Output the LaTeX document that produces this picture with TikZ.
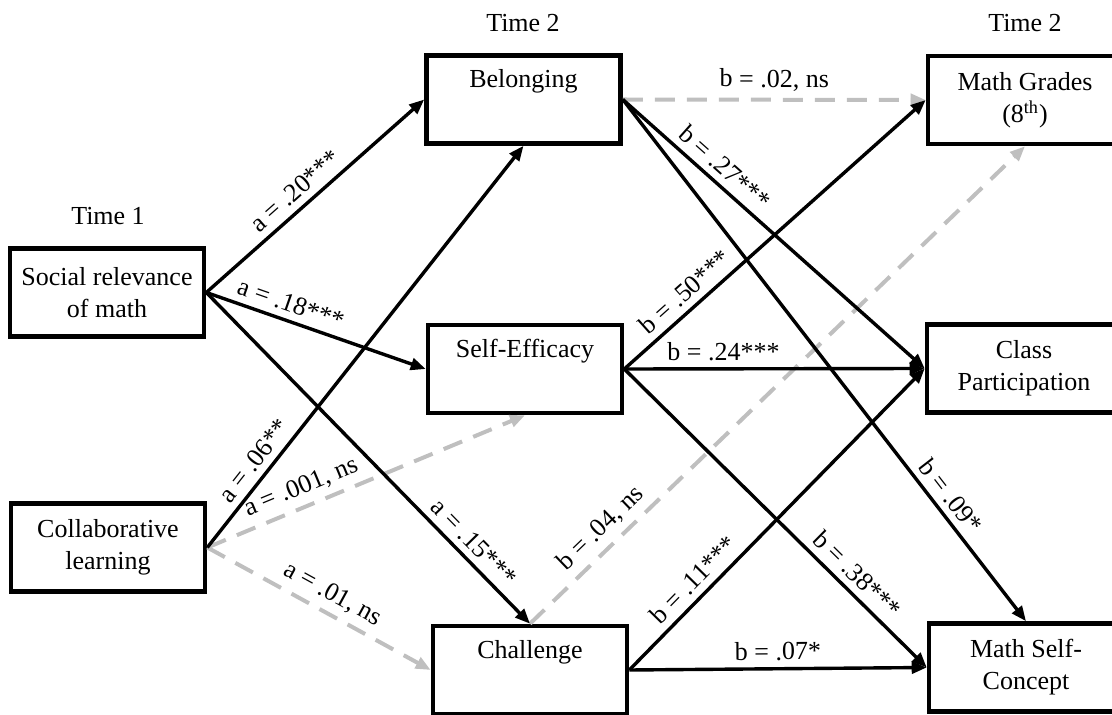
\documentclass[tikz,border=0pt]{standalone}
\usepackage{fontspec}
\setmainfont{Liberation Serif}
\usetikzlibrary{arrows.meta}

\begin{document}
\begin{tikzpicture}[x=0.5pt,y=-0.5pt,
  font=\fontsize{13}{16}\selectfont,
  box/.style={draw,line width=2.3pt,minimum width=97pt,minimum height=44pt,align=center,inner sep=2pt},
  arr/.style={line width=1.7pt,-{Triangle[length=7.5pt,width=6pt]}},
  nsarr/.style={line width=2pt,gray!50,dash pattern=on 10pt off 6pt,-{Triangle[length=7.5pt,width=6pt]}},
  lab/.style={sloped,above,text=black}]
\useasboundingbox (0,0) rectangle (1112,715);

% headings
\node (t1) at (108,216) {Time 1};
\node (t2a) at (523,23) {Time 2};
\node (t2b) at (1025,23) {Time 2};

% predictors
\node[box] (soc) at (107,292.5) {Social relevance\\of math};
\node[box] (col) at (108,547.5) {Collaborative\\learning};

% mediators
\node[box] (bel) at (523.5,99.5) {Belonging\\\strut};
\node[box] (eff) at (525,369) {Self-Efficacy\\\strut};
\node[box] (cha) at (530,670) {Challenge\\\strut};

% outcomes
\node[box] (mg) at (1025,100) {Math Grades\\(8\textsuperscript{th})};
\node[box] (cp) at (1024,368.5) {Class\\Participation};
\node[box] (msc) at (1026,667.5) {Math Self-\\Concept};

% ns paths
\draw[nsarr] (col.east) -- node[lab,pos=0.32] {a = .001, ns} (eff.south);
\draw[nsarr] (col.east) -- node[lab,pos=0.52] {a = .01, ns} (cha.west);
\draw[nsarr] (bel.east) -- node[lab] {b = .02, ns} (mg.west);
\draw[nsarr] (cha.north) -- node[lab,pos=0.17] {b = .04, ns} (mg.south);

% a paths
\draw[arr] (soc.east) -- node[lab,pos=0.46] {a = .20***} (bel.west);
\draw[arr] (soc.east) -- node[lab,pos=0.36] {a = .18***} (eff.west);
\draw[arr] (soc.east) -- node[lab,pos=0.79] {a = .15***} (cha.north);
\draw[arr] (col.east) -- node[lab,pos=0.19] {a = .06**} (bel.south);

% b paths
\draw[arr] (bel.east) -- node[lab,pos=0.30] {b = .27***} (cp.west);
\draw[arr] (bel.east) -- node[lab,pos=0.78] {b = .09*} (msc.north);
\draw[arr] (eff.east) -- node[lab,pos=0.24] {b = .50***} (mg.west);
\draw[arr] (eff.east) -- node[lab,pos=0.33] {b = .24***} (cp.west);
\draw[arr] (eff.east) -- node[lab,pos=0.73] {b = .38***} (msc.west);
\draw[arr] (cha.east) -- node[lab,pos=0.26] {b = .11***} (cp.west);
\draw[arr] (cha.east) -- node[lab] {b = .07*} (msc.west);
\end{tikzpicture}
\end{document}
